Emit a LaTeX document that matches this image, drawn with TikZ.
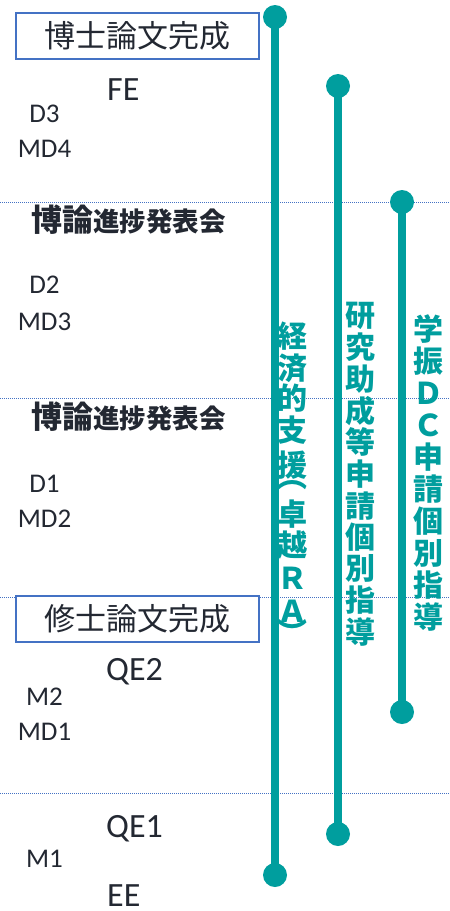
\documentclass[tikz,border=0pt]{standalone}
\usepackage{fontspec}
\setmainfont{Carlito}
\newfontfamily\jp{Noto Sans CJK JP}
\definecolor{barcol}{RGB}{0,158,158}
\definecolor{ink}{RGB}{35,40,50}
\definecolor{boxblue}{RGB}{68,114,196}
\tikzset{
  sep/.style={boxblue,line width=1pt,dash pattern=on 1pt off 1pt},
  titlebox/.style={draw=boxblue,line width=1.5pt,fill=white,minimum width=243pt,minimum height=46pt,inner sep=0pt,text=ink,font=\jp\fontsize{31}{31}\selectfont},
  dot/.style={circle,fill=barcol,minimum size=24pt,inner sep=0pt},
  bar/.style={barcol,line width=8pt},
  vtext/.style={text=barcol,inner sep=0pt,font=\jp\bfseries\fontsize{30}{30}\selectfont},
  year/.style={anchor=base,text=ink,inner sep=0pt,font=\fontsize{27}{27}\selectfont},
  exam/.style={anchor=base west,text=ink,inner sep=0pt,font=\fontsize{34}{34}\selectfont},
  talk/.style={anchor=base west,text=ink,inner sep=0pt}
}
\begin{document}
\begin{tikzpicture}[x=1pt,y=-1pt]
\useasboundingbox (0,0) rectangle (450,911);

% year separators
\foreach \y in {202,398,597,793}
{
	\draw[sep] (0,\y) -- (450,\y);
}

\node[titlebox] (phd) at (137.5,36) {博士論文完成};
\node[titlebox] (master) at (137.5,619) {修士論文完成};

\foreach \y/\n in {231/talka,428/talkb}
{
	\node[talk] (\n) at (31,\y) {{\jp\bfseries\fontsize{31}{31}\selectfont 博論}{\jp\bfseries\fontsize{26.5}{26.5}\selectfont 進捗発表会}};
}

\foreach \y/\t/\n in {122/D3/da,157/MD4/mda,293/D2/db,330/MD3/mdb,492/D1/dc,527/MD2/mdc,705/M2/ma,740/MD1/mdd,867/M1/mb}
{
	\node[year] (\n) at (44.5,\y) {\t};
}

\node[exam] (fe) at (107,100) {FE};
\node[exam] (qeb) at (106,680) {QE2};
\node[exam] (qea) at (106,837) {QE1};
\node[exam] (ee) at (107,906) {EE};

% support bars
\node[dot] (sa) at (275,17) {};
\node[dot] (ea) at (275,875) {};
\node[dot] (sb) at (338,86) {};
\node[dot] (eb) at (338,834) {};
\node[dot] (sc) at (402,202) {};
\node[dot] (ec) at (402,712) {};
\draw[bar] (sa.center) -- (ea.center);
\draw[bar] (sb.center) -- (eb.center);
\draw[bar] (sc.center) -- (ec.center);

\foreach \y/\c in {336/経,368/済,398/的,430/支,465/援,485/︵,514/卓,545/越,578/Ｒ,611/Ａ,632/︶}
{
	\node[vtext] at (292,\y) {\c};
}
\foreach \c [count=\i from 0] in {研,究,助,成,等,申,請,個,別,指,導}
{
	\node[vtext] at (360,316+31.6*\i) {\c};
}
\foreach \c [count=\i from 0] in {学,振,Ｄ,Ｃ,申,請,個,別,指,導}
{
	\node[vtext] at (428,329+32*\i) {\c};
}

\end{tikzpicture}
\end{document}
